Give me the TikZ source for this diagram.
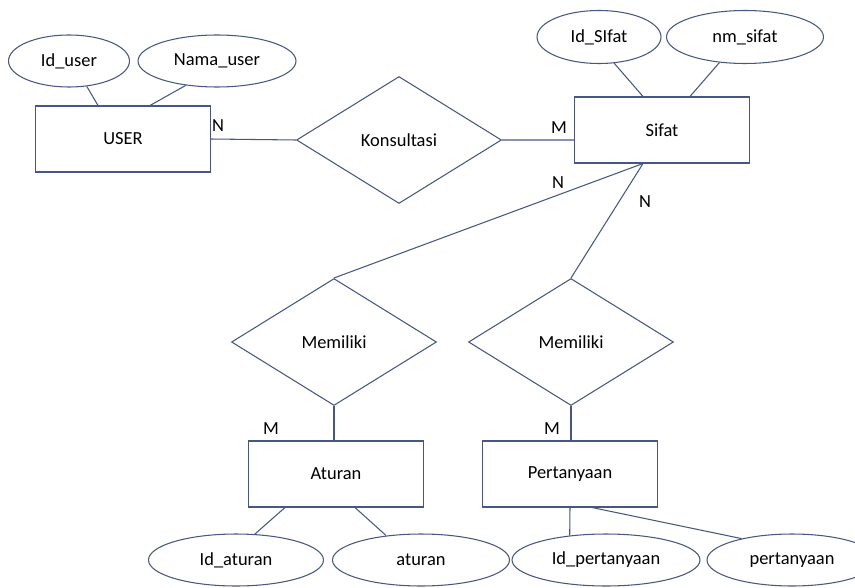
\documentclass[tikz,border=0pt]{standalone}
\usepackage{fontspec}
\setmainfont{Carlito}
\usetikzlibrary{shapes.geometric}

\definecolor{erline}{RGB}{72,86,130}

\tikzset{
  entity/.style={draw=erline, line width=0.6pt, rectangle, minimum width=3.5cm, minimum height=1.32cm, inner sep=0pt},
  relation/.style={draw=erline, line width=0.6pt, diamond, minimum width=4.1cm, minimum height=2.54cm, inner sep=0pt},
  attrib/.style={draw=erline, line width=0.6pt, ellipse, minimum height=1.04cm, inner sep=0pt},
  link/.style={draw=erline, line width=0.6pt},
  card/.style={inner sep=0pt},
}

\begin{document}
\begin{tikzpicture}[x=0.02cm, y=-0.02cm, font=\fontsize{10.5}{12}\selectfont]
  \useasboundingbox (0,0) rectangle (855,588);

  % Entities
  \node [entity] (user) at (123,139) {USER};
  \node [entity] (sifat) at (662,130) {Sifat};
  \node [entity] (aturan) at (336,474) {Aturan};
  \node [entity] (tanya) at (570,474) {Pertanyaan};

  % Relations
  \node [relation] (konsul) at (399,140) {Konsultasi};
  \node [relation] (milik1) at (334,342) {Memiliki};
  \node [relation] (milik2) at (571,342) {Memiliki};

  % Attributes
  \node [attrib, minimum width=2.42cm] (iduser) at (69,61) {Id\_user};
  \node [attrib, minimum width=3.16cm] (namauser) at (217,61) {Nama\_user};
  \node [attrib, minimum width=2.48cm, minimum height=1.06cm] (idsifat) at (599,37) {Id\_SIfat};
  \node [attrib, minimum width=3.14cm, minimum height=1.06cm] (nmsifat) at (745,37) {nm\_sifat};
  \node [attrib, minimum width=3.5cm] (idaturan) at (236,560) {Id\_aturan};
  \node [attrib, minimum width=3.54cm] (atr) at (421,560) {aturan};
  \node [attrib, minimum width=3.76cm] (idtanya) at (606,560) {Id\_pertanyaan};
  \node [attrib, minimum width=3.4cm] (ptanya) at (792,560) {pertanyaan};

  % Attribute links
  \draw [link] (iduser.-55) -- ([xshift=-0.5cm]user.north);
  \draw [link] (namauser.-142) -- ([xshift=0.54cm]user.north);
  \draw [link] (idsifat.-60) -- ([xshift=-0.38cm]sifat.north);
  \draw [link] (nmsifat.-135) -- ([xshift=0.56cm]sifat.north);
  \draw [link] ([xshift=-1.02cm]aturan.south) -- (idaturan.54);
  \draw [link] ([xshift=0.38cm]aturan.south) -- (atr.145);
  \draw [link] (tanya.south) -- (idtanya.146);
  \draw [link] ([xshift=0.44cm]tanya.south) -- (ptanya.157);

  % Relation links
  \draw [link] (user.east) -- (konsul.west);
  \draw [link] (konsul.east) -- ([yshift=-0.2cm]sifat.west);
  \draw [link] ([xshift=-0.38cm]sifat.south) -- (milik1.north);
  \draw [link] ([xshift=-0.38cm]sifat.south) -- (milik2.north);
  \draw [link] (milik1.south) -- (milik1.south |- aturan.north);
  \draw [link] (milik2.south) -- (milik2.south |- tanya.north);

  % Cardinalities
  \node [card] (c1) at (218,126) {N};
  \node [card] (c2) at (559,128) {M};
  \node [card] (c3) at (558,183) {N};
  \node [card] (c4) at (645,202) {N};
  \node [card] (c5) at (271,429) {M};
  \node [card] (c6) at (552,429) {M};
\end{tikzpicture}
\end{document}
